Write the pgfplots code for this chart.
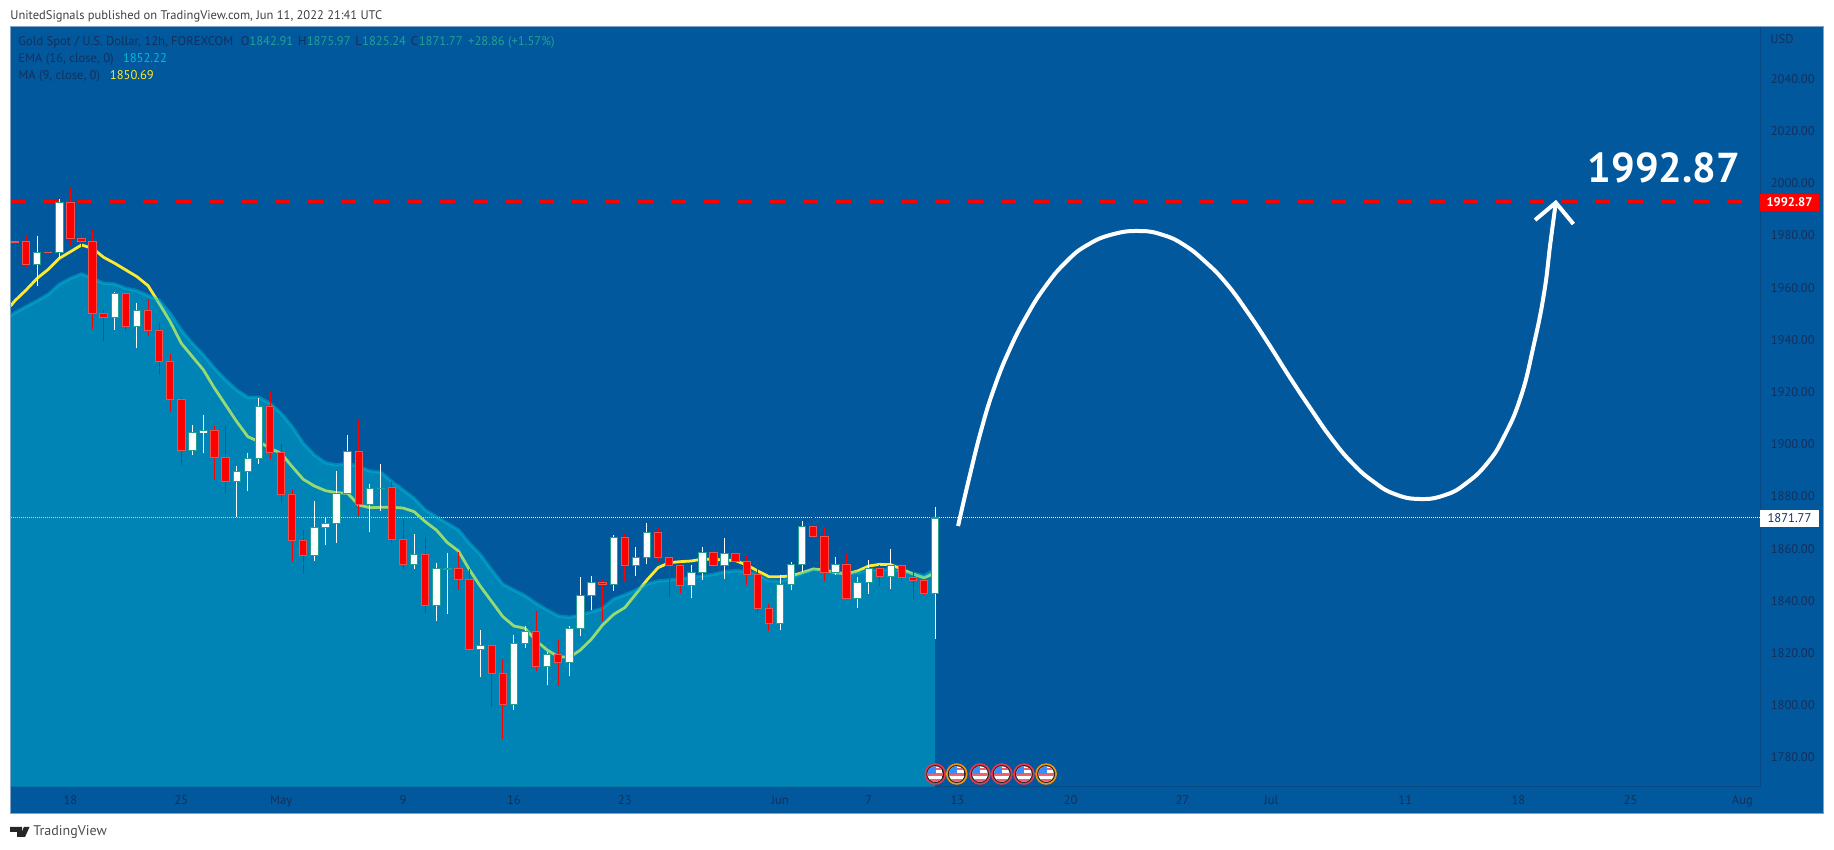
\documentclass[border=0pt]{standalone}
\usepackage{fontspec}
\usepackage{pgfplots}
\usepackage{pgfplotstable}
\pgfplotsset{compat=1.18}
\usetikzlibrary{plotmarks}
\setmainfont{PT Sans}

\definecolor{bgblue}{HTML}{01589D}
\definecolor{areac}{RGB}{0,196,218}
\definecolor{maline}{HTML}{FDE92F}
\definecolor{txt}{HTML}{13305C}
\definecolor{upc}{HTML}{24A090}
\definecolor{downb}{HTML}{EF5350}
\definecolor{framec}{HTML}{7FA3C7}
\definecolor{ringr}{HTML}{E5394F}
\definecolor{ringo}{HTML}{F09410}
\definecolor{emaval}{HTML}{00BCD4}

% px in the reference = 0.5pt here
\newcommand{\tsmall}{\fontsize{6.3}{7}\selectfont}

\pgfplotstableread{
i o h l c
0 1977.8 1981.46 1971.89 1977.6
1 1977.76 1980.19 1967.80 1968.82
3 1973.6 1973.7 1973.3 1973.4
5 1992.70 1998.07 1976.36 1978.78
6 1978.91 1981.46 1972.91 1977.63
7 1977.76 1982.10 1944.05 1950.18
8 1950.18 1951.45 1939.58 1948.64
10 1957.84 1958.0 1943.02 1945.07
12 1951.33 1955.67 1941.62 1943.53
13 1943.66 1946.34 1926.55 1931.66
14 1931.66 1934.60 1912.50 1917.23
15 1917.23 1918.00 1891.94 1897.56
18 1905.35 1907.01 1886.32 1895.01
19 1895.01 1907.14 1881.47 1885.81
23 1914.55 1920.04 1894.37 1896.80
24 1896.92 1900.12 1877.38 1880.83
25 1880.83 1882.49 1855.03 1863.21
26 1863.21 1867.17 1850.82 1857.46
31 1897.17 1909.56 1872.65 1877.00
34 1883.38 1885.94 1862.69 1863.59
35 1863.59 1871.25 1852.09 1854.01
37 1857.84 1864.35 1835.49 1838.30
40 1852.48 1858.73 1844.18 1848.26
41 1848.26 1852.09 1821.3 1821.44
43 1822.85 1822.85 1799.48 1812.25
44 1812.25 1817.61 1787.22 1800.37
47 1828.21 1836.13 1813.27 1814.93
49 1819.40 1825.02 1807.52 1816.33
53 1847.11 1848.01 1832.17 1846.35
55 1864.35 1865.63 1847.37 1853.63
58 1866.27 1868.31 1855.29 1856.69
59 1856.69 1857.0 1841.62 1853.63
60 1853.63 1854.39 1843.15 1845.96
63 1858.61 1862.06 1850.82 1853.63
65 1858.10 1861.03 1854.39 1855.16
66 1855.16 1857.20 1846.09 1850.18
67 1850.18 1855.67 1835.24 1837.15
68 1837.15 1838.81 1828.59 1831.40
72 1868.57 1873.93 1863.59 1864.74
73 1864.74 1867.93 1847.62 1850.94
75 1854.01 1857.97 1840.85 1840.98
78 1852.48 1853.75 1845.71 1849.28
80 1853.63 1855.29 1847.62 1849.03
81 1849.03 1852.60 1840.34 1847.75
82 1847.88 1848.26 1842.39 1842.90
}\downbars

\pgfplotstableread{
i o h l c
2 1968.82 1979.80 1960.65 1973.55
4 1973.55 1993.98 1971.25 1992.70
9 1948.64 1958.35 1943.79 1957.84
11 1945.07 1954.26 1937.02 1951.33
16 1897.56 1907.40 1895.90 1904.46
17 1904.59 1911.23 1896.80 1905.22
20 1885.81 1891.69 1872.28 1889.52
21 1889.52 1896.54 1882.24 1894.63
22 1894.63 1917.74 1892.45 1914.55
27 1857.46 1878.28 1855.42 1868.19
28 1868.19 1872.02 1861.42 1869.72
29 1869.72 1889.77 1862.06 1881.22
30 1881.21 1903.56 1881.0 1897.17
32 1877.00 1884.79 1866.52 1883.00
33 1883.13 1892.45 1874.57 1883.25
36 1854.01 1865.63 1852.35 1857.84
38 1838.30 1854.39 1832.43 1852.48
39 1852.35 1858.35 1834.98 1852.48
42 1821.44 1828.85 1810.97 1822.85
45 1800.37 1826.93 1798.20 1823.74
46 1823.74 1830.38 1821.95 1828.21
48 1814.93 1820.55 1807.78 1819.40
50 1816.46 1830.38 1811.23 1829.36
51 1829.36 1849.16 1826.55 1842.00
52 1842.00 1849.54 1836.51 1846.98
54 1846.35 1865.25 1843.79 1864.35
56 1853.63 1860.78 1849.54 1856.69
57 1856.69 1869.85 1854.14 1866.27
61 1845.96 1853.75 1841.24 1850.82
62 1850.94 1860.52 1848.01 1858.61
64 1853.63 1864.10 1848.52 1858.10
69 1831.40 1849.92 1828.98 1846.35
70 1846.35 1854.78 1844.18 1854.01
71 1854.01 1870.48 1851.20 1868.57
74 1850.94 1856.69 1849.92 1854.01
76 1840.98 1849.03 1837.41 1847.11
77 1847.11 1855.67 1842.64 1852.48
79 1849.28 1859.88 1844.69 1853.63
83 1842.91 1875.97 1825.24 1871.77
}\upbars

\pgfplotstableread{
i v
-0.406 1949.28
0 1950.43
1 1952.73
2 1955.03
3 1957.46
4 1961.29
5 1963.59
6 1965.25
7 1963.59
8 1961.67
9 1961.41
10 1959.75
11 1958.86
12 1956.94
13 1955.28
14 1950.18
15 1943.79
16 1938.69
17 1934.22
18 1929.11
19 1924.64
20 1920.81
21 1918.00
22 1918.00
23 1915.70
24 1911.87
25 1906.76
26 1900.37
27 1895.90
28 1892.96
29 1892.07
30 1892.71
31 1891.43
32 1889.77
33 1889.26
34 1885.68
35 1882.49
36 1879.30
37 1874.83
38 1872.27
39 1869.72
40 1867.16
41 1862.05
42 1857.58
43 1851.84
44 1846.35
45 1844.18
46 1842.00
47 1839.07
48 1836.51
49 1834.21
50 1833.70
51 1834.60
52 1835.87
53 1837.15
54 1840.73
55 1842.26
56 1844.18
57 1846.47
58 1847.62
59 1848.01
60 1848.39
61 1849.03
62 1849.54
63 1850.18
64 1851.20
65 1851.58
66 1851.33
67 1850.18
68 1847.75
69 1847.62
70 1848.65
71 1850.56
72 1852.09
73 1851.58
74 1851.07
75 1850.56
76 1850.82
77 1851.84
78 1851.84
79 1852.22
80 1851.46
81 1850.56
82 1849.67
83 1852.22
}\ema

\pgfplotstableread{
i v
-0.406 1952.99
0 1955.03
1 1959.12
2 1963.59
3 1967.03
4 1971.25
5 1973.80
6 1976.36
7 1975.08
8 1971.63
9 1969.33
10 1966.78
11 1964.22
12 1960.78
13 1954.01
14 1946.98
15 1938.69
16 1933.58
17 1928.47
18 1921.44
19 1915.06
20 1908.67
21 1902.93
22 1901.01
23 1898.46
24 1896.54
25 1891.43
26 1886.58
27 1884.03
28 1882.24
29 1881.47
30 1881.21
31 1876.74
32 1875.72
33 1875.85
34 1875.85
35 1875.59
36 1874.19
37 1870.36
38 1867.16
39 1862.31
40 1859.12
41 1851.84
42 1845.45
43 1839.71
44 1833.96
45 1830.38
46 1829.49
47 1824.76
48 1821.19
49 1818.63
50 1818.38
51 1821.19
52 1825.40
53 1830.77
54 1834.85
55 1837.41
56 1842.64
57 1848.01
58 1852.73
59 1854.65
60 1855.03
61 1855.29
62 1856.05
63 1855.93
64 1855.67
65 1855.41
66 1853.75
67 1851.46
68 1849.28
69 1849.28
70 1849.54
71 1850.82
72 1852.22
73 1851.84
74 1850.82
75 1850.31
76 1851.46
77 1853.37
78 1854.01
79 1853.88
80 1852.09
81 1850.31
82 1848.90
83 1850.69
}\maline

\pgfplotstableread{
i v
85.06 1868.70
86.09 1887.60
87.23 1906.76
88.36 1922.08
89.69 1936.13
91.21 1948.90
92.92 1960.40
94.82 1969.97
96.72 1976.36
99.00 1980.45
101.46 1981.72
103.55 1980.19
105.45 1976.36
107.35 1969.97
109.25 1961.67
111.14 1950.82
113.04 1938.68
114.94 1925.91
116.84 1913.78
118.73 1902.29
120.63 1892.71
122.53 1885.68
124.43 1880.96
126.71 1879.04
128.99 1880.58
130.88 1885.05
132.78 1892.71
134.30 1902.93
135.82 1918.25
136.95 1937.41
137.91 1957.84
138.48 1977.00
138.97 1992.58
}\sketch

% economic event badge
\newcommand{\usflag}[1]{%
  \pgfsetfillcolor{#1}\pgfpathcircle{\pgfpointorigin}{5.4pt}\pgfusepath{fill}%
  \pgfsetfillcolor{black!85}\pgfpathcircle{\pgfpointorigin}{4.5pt}\pgfusepath{fill}%
  \pgfscope
  \pgfpathcircle{\pgfpointorigin}{3.9pt}\pgfusepath{clip}%
  \pgfsetfillcolor{white}\pgfpathrectangle{\pgfpoint{-4pt}{-4pt}}{\pgfpoint{8pt}{8pt}}\pgfusepath{fill}%
  \pgfsetfillcolor{ringr!80}%
  \pgfpathrectangle{\pgfpoint{-4pt}{1.8pt}}{\pgfpoint{8pt}{1.3pt}}\pgfusepath{fill}%
  \pgfpathrectangle{\pgfpoint{-4pt}{-1pt}}{\pgfpoint{8pt}{1.4pt}}\pgfusepath{fill}%
  \pgfpathrectangle{\pgfpoint{-4pt}{-3.8pt}}{\pgfpoint{8pt}{1.4pt}}\pgfusepath{fill}%
  \pgfsetfillcolor{blue!55!cyan!80}%
  \pgfpathrectangle{\pgfpoint{-4pt}{0pt}}{\pgfpoint{4.2pt}{4pt}}\pgfusepath{fill}%
  \endpgfscope}
\pgfdeclareplotmark{flagr}{\usflag{ringr}}
\pgfdeclareplotmark{flago}{\usflag{ringo}}

% mark size 0 and no draw: only the error bars show
\pgfplotsset{
  candle/.style 2 args={draw=none, no markers, mark size=0pt, forget plot,
    error bars/.cd, y dir=both, y explicit, error mark=none,
    error bar style={line width=#1, draw=#2, solid}},
}

\begin{document}
\begin{tikzpicture}
  \path[use as bounding box] (0,0) rectangle (917pt,425pt);
  \fill[white] (0,0) rectangle (917pt,425pt);
  \fill[bgblue] (5pt,18pt) rectangle (911.5pt,411.5pt);

  \begin{axis}[
    at={(5.25pt,31.5pt)}, anchor=south west,
    width=874.75pt, height=380pt, scale only axis,
    xmin=-0.406, xmax=157.39,
    ymin=1768.7, ymax=2059.89,
    clip=false,
    axis y line*=right, axis x line*=bottom,
    axis line style={draw=txt!40!bgblue, line width=0.5pt, -},
    tick style={draw=none},
    ytick={1780,1800,...,2040},
    xtick={5,15,24,35,45,55,69,77,85,95.2,105.3,113.3,125.4,135.6,145.7,155.8},
    xticklabels={18,25,May,9,16,23,Jun,7,13,20,27,Jul,11,18,25,Aug},
    ticklabel style={font=\tsmall, text=txt, inner sep=0pt},
    yticklabel style={anchor=west, xshift=5.2pt,
      /pgf/number format/fixed, /pgf/number format/fixed zerofill,
      /pgf/number format/precision=2, /pgf/number format/1000 sep={},
      /pgf/number format/assume math mode=true},
    xticklabel style={anchor=base, yshift=-9pt},
  ]
    % last price, started on a pixel edge so the dots stay dots
    \addplot[forget plot, white, line width=0.5pt, dash pattern=on 0.5pt off 0.5pt]
      coordinates {(-0.3608,1871.77) (157.39,1871.77)};
    % MA 9 sits under the translucent EMA area
    \addplot[forget plot, maline, line width=1.4pt] table[x=i,y=v] {\maline};
    \addplot[forget plot, fill=areac, fill opacity=0.4, draw=none] table[x=i,y=v] {\ema} \closedcycle;
    \addplot[forget plot, areac, opacity=0.4, line width=1.7pt] table[x=i,y=v] {\ema};
    % target level
    \addplot[forget plot, red, line width=1.5pt, dash pattern=on 7.5pt off 9pt]
      coordinates {(-0.406,1992.87) (157.39,1992.87)};

    % wicks, then body outline, then body fill
    \addplot[candle={0.5pt}{red}] table[x=i, y expr={(\thisrow{h}+\thisrow{l})/2}, y error expr={(\thisrow{h}-\thisrow{l})/2}] {\downbars};
    \addplot[candle={0.5pt}{white}] table[x=i, y expr={(\thisrow{h}+\thisrow{l})/2}, y error expr={(\thisrow{h}-\thisrow{l})/2}] {\upbars};
    \addplot[candle={4.2pt}{downb}] table[x=i, y expr={(\thisrow{o}+\thisrow{c})/2}, y error expr={abs(\thisrow{o}-\thisrow{c})/2+0.2}] {\downbars};
    \addplot[candle={4.2pt}{upc}] table[x=i, y expr={(\thisrow{o}+\thisrow{c})/2}, y error expr={abs(\thisrow{o}-\thisrow{c})/2+0.2}] {\upbars};
    \addplot[candle={3.2pt}{red}] table[x=i, y expr={(\thisrow{o}+\thisrow{c})/2}, y error expr={max(abs(\thisrow{o}-\thisrow{c})/2-0.2,0)}] {\downbars};
    \addplot[candle={3.2pt}{white}] table[x=i, y expr={(\thisrow{o}+\thisrow{c})/2}, y error expr={max(abs(\thisrow{o}-\thisrow{c})/2-0.2,0)}] {\upbars};

    % hand drawn forecast
    \addplot[forget plot, white, line width=2pt, smooth, tension=0.8] table[x=i,y=v] {\sketch};
    \addplot[forget plot, white, line width=2pt, line join=miter]
      coordinates {(137.1,1985.94) (138.97,1992.58) (140.56,1984.40)};

    % event badges
    \addplot[forget plot, only marks, mark=flagr] coordinates {(83,1773.67) (87.04,1773.67) (89,1773.67) (91,1773.67)};
    \addplot[forget plot, only marks, mark=flago] coordinates {(84.94,1773.67) (93,1773.67)};
  \end{axis}

  \begin{scope}[x=0.5pt, y=-0.5pt, yshift=425pt]
    \draw[framec, line width=0.5pt] (10,27) rectangle (1823,814);

    \node[anchor=base west, inner sep=0pt, text=black!75, font=\fontsize{6.25}{8}\selectfont] at (10,19.5)
      {UnitedSignals published on TradingView.com, Jun 11, 2022 21:41 UTC};

    \node[anchor=base west, inner sep=0pt, text=txt, font=\tsmall] at (18,45.5) {Gold Spot / U.S. Dollar, 12h, FOREXCOM};
    \node[anchor=base west, inner sep=0pt, text=txt, font=\tsmall] at (240.4,45.5) {O};
    \node[anchor=base west, inner sep=0pt, text=upc, font=\tsmall] at (249,45.5) {1842.91};
    \node[anchor=base west, inner sep=0pt, text=txt, font=\tsmall] at (297.7,45.5) {H};
    \node[anchor=base west, inner sep=0pt, text=upc, font=\tsmall] at (306.4,45.5) {1875.97};
    \node[anchor=base west, inner sep=0pt, text=txt, font=\tsmall] at (355,45.5) {L};
    \node[anchor=base west, inner sep=0pt, text=upc, font=\tsmall] at (361.8,45.5) {1825.24};
    \node[anchor=base west, inner sep=0pt, text=txt, font=\tsmall] at (410.4,45.5) {C};
    \node[anchor=base west, inner sep=0pt, text=upc, font=\tsmall] at (418.4,45.5) {1871.77};
    \node[anchor=base west, inner sep=0pt, text=upc, font=\tsmall] at (467.8,45.5) {+28.86 (+1.57\%)};

    \node[anchor=base west, inner sep=0pt, text=txt, font=\tsmall] at (18,63) {EMA (16, close, 0)};
    \node[anchor=base west, inner sep=0pt, text=emaval, font=\tsmall] at (122.6,63) {1852.22};
    \node[anchor=base west, inner sep=0pt, text=txt, font=\tsmall] at (18,80) {MA (9, close, 0)};
    \node[anchor=base west, inner sep=0pt, text=maline, font=\tsmall] at (109.5,80) {1850.69};

    \node[anchor=base west, inner sep=0pt, text=txt, font=\tsmall] at (1770,44) {USD};

    % price tags
    \node[fill=red, text=white, inner sep=0pt, minimum width=29.5pt, minimum height=8.7pt, font=\tsmall\bfseries] at (1789.5,202.3) {1992.87};
    \node[fill=white, text=txt, inner sep=0pt, minimum width=29.5pt, minimum height=8.5pt, font=\tsmall] at (1789.5,518.3) {1871.77};

    \node[anchor=base, inner sep=0pt, text=white, font=\fontsize{20.9}{24}\selectfont\bfseries] at (1664,183) {1992.87};

    % TradingView logo
    \fill[black!85] (10,827) -- (22,827) -- (22,837) -- (17,837) -- (17,832) -- (10,832) -- cycle;
    \fill[black!85] (25.5,829.5) circle (2.4);
    \fill[black!85] (24,827) -- (29.5,827) -- (25,837) -- (19.5,837) -- cycle;
    \node[anchor=base west, inner sep=0pt, text=black!70, font=\fontsize{7}{8}\selectfont] at (33,836) {TradingView};
  \end{scope}
\end{tikzpicture}
\end{document}
